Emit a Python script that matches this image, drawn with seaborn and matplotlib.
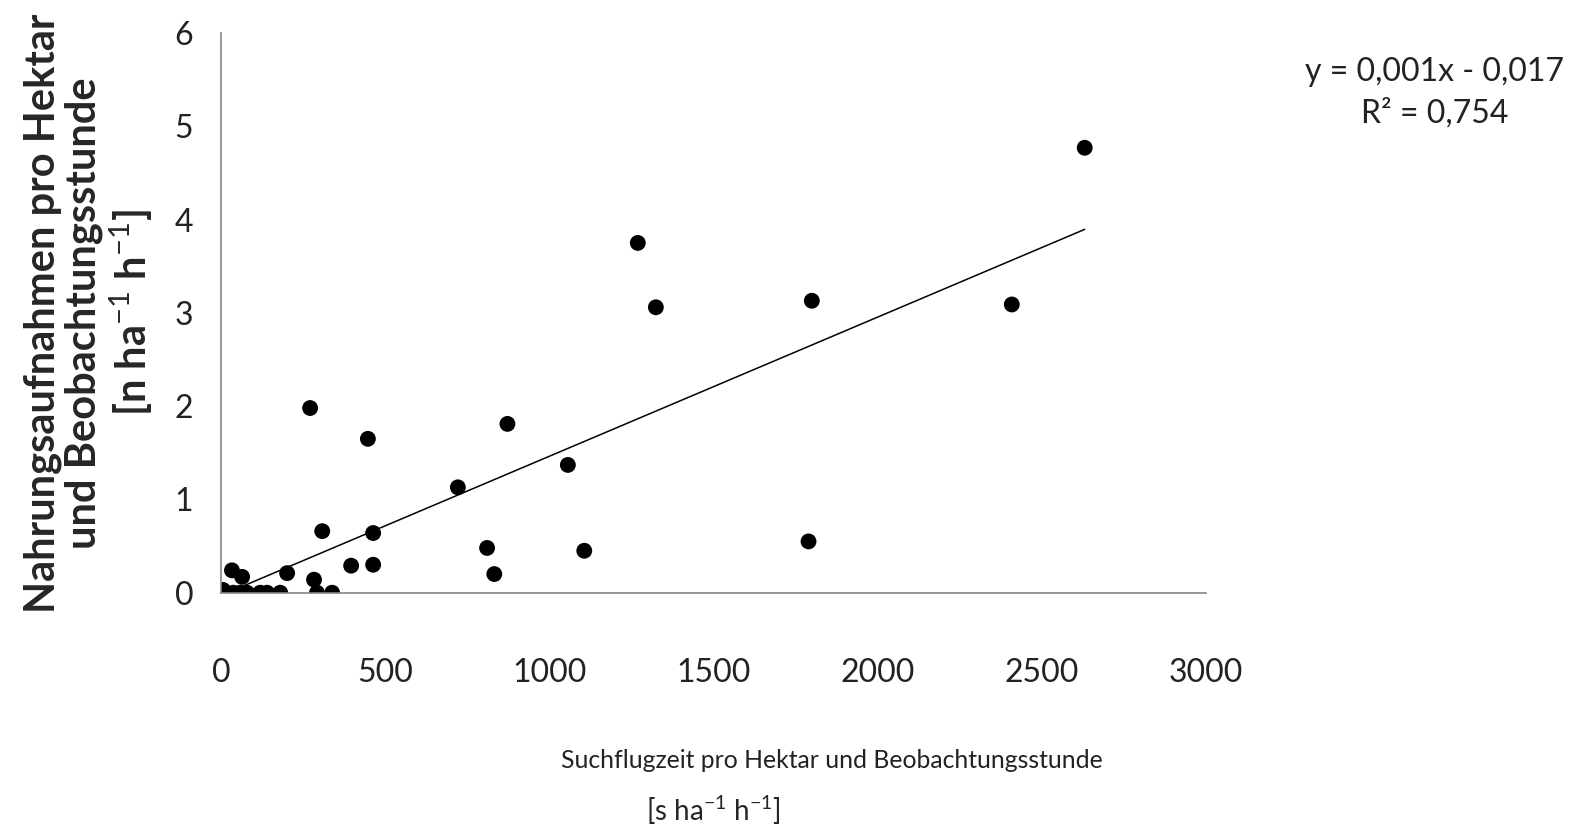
import numpy as np
import pandas as pd
import matplotlib
matplotlib.use('Agg')
import matplotlib.pyplot as plt
import seaborn as sns

# data
suchflugzeit = [2630, 1269, 1324, 1799, 2408, 271, 447, 872, 1056, 721,
                308, 463, 1106, 810, 1789, 832, 396, 463, 201, 283,
                33, 64, 6, 0, 12, 37, 58, 79, 119, 140, 180, 292, 338]
nahrung = [4.77, 3.75, 3.06, 3.13, 3.09, 1.98, 1.65, 1.81, 1.37, 1.13,
           0.66, 0.64, 0.45, 0.48, 0.55, 0.20, 0.29, 0.30, 0.21, 0.14,
           0.24, 0.17, 0.03, 0, 0, 0, 0, 0, 0, 0, 0, 0, 0]
x_ticks = [0, 500, 1000, 1500, 2000, 2500, 3000]
y_ticks = [0, 1, 2, 3, 4, 5, 6]
equation = "y = 0,001x - 0,017\nR² = 0,754"

df = pd.DataFrame({"x": suchflugzeit, "y": nahrung})

sns.set_style("white")
plt.rcParams['font.family'] = ['Lato', 'DejaVu Sans']
plt.rcParams['mathtext.fontset'] = 'custom'
plt.rcParams['mathtext.rm'] = 'Lato'
plt.rcParams['mathtext.bf'] = 'Lato:bold'

fig = plt.figure(figsize=(15.85, 8.36), dpi=100)
ax = fig.add_axes([0.1395, 0.291, 0.6215, 0.6695])

sns.regplot(data=df, x="x", y="y", ax=ax, ci=None,
            scatter_kws=dict(s=130, color="black", edgecolor="none", alpha=1),
            line_kws=dict(color="black", lw=1.1))

ax.set_xlim(0, 3000)
ax.set_ylim(0, 6)
ax.set_xticks(x_ticks)
ax.set_yticks(y_ticks)
for sp in ["top", "right"]:
    ax.spines[sp].set_visible(False)
for sp in ["left", "bottom"]:
    ax.spines[sp].set_color("#868686")
    ax.spines[sp].set_linewidth(1.2)
ax.tick_params(axis="both", which="both", direction="out", length=7, width=1.2,
               color="#868686", labelsize=23, labelcolor="#222222")
ax.tick_params(axis="x", pad=40)
ax.tick_params(axis="y", pad=13)
for lab in ax.get_xticklabels() + ax.get_yticklabels():
    lab.set_clip_on(False)

# x label: second line centred under the axis, first line shifted right as in the original
ax.set_xlabel("[s ha$^{-1}$ h$^{-1}$]", fontsize=20, labelpad=76)
fig.text(0.525, 1 - 760 / 836, "Suchflugzeit pro Hektar und Beobachtungsstunde",
         ha="center", va="center", fontsize=17.8, color="#222222")

ax.set_ylabel("Nahrungsaufnahmen pro Hektar\nund Beobachtungsstunde\n[n ha$^{-1}$ h$^{-1}$]",
              fontsize=30, fontweight="bold", labelpad=14, linespacing=1.1)

fig.text(0.905, 0.889, equation, ha="center", va="center", fontsize=23,
         linespacing=1.45, color="#222222")

fig.savefig("out.png", dpi=100)
